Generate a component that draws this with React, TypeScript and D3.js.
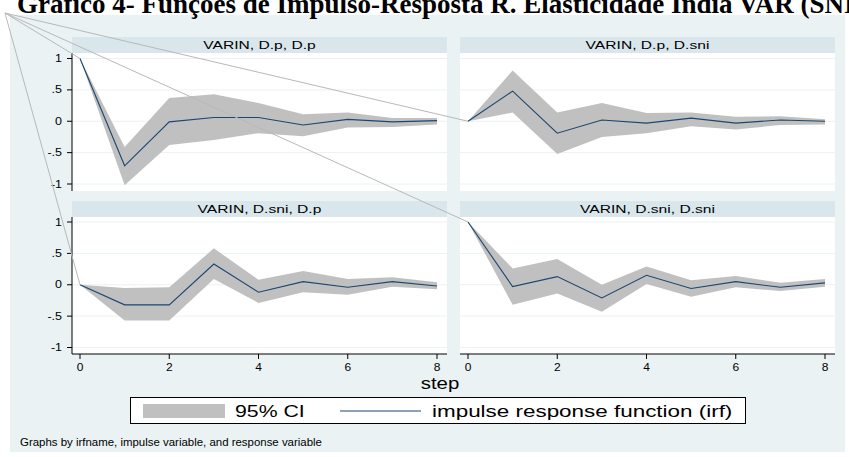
import React from 'react';
import * as d3 from 'd3';

const steps = [0, 1, 2, 3, 4, 5, 6, 7, 8];
const yTicks = [1, 0.5, 0, -0.5, -1];
const yTickLabels = ['1', '.5', '0', '-.5', '-1'];
const xTicks = [0, 2, 4, 6, 8];

const titles = ['VARIN, D.p, D.p', 'VARIN, D.p, D.sni', 'VARIN, D.sni, D.p', 'VARIN, D.sni, D.sni'];

// D.p -> D.p
const irfPP = [1, -0.71, -0.01, 0.06, 0.06, -0.06, 0.03, -0.01, 0.01];
const upPP = [1, -0.41, 0.37, 0.43, 0.29, 0.11, 0.14, 0.05, 0.05];
const loPP = [1, -1.02, -0.38, -0.3, -0.19, -0.24, -0.1, -0.09, -0.05];

// D.p -> D.sni
const irfPS = [0, 0.48, -0.19, 0.02, -0.03, 0.05, -0.03, 0.02, 0.0];
const upPS = [0, 0.81, 0.14, 0.29, 0.13, 0.14, 0.07, 0.08, 0.03];
const loPS = [0, 0.14, -0.52, -0.25, -0.19, -0.08, -0.13, -0.06, -0.05];

// D.sni -> D.p
const irfSP = [0, -0.32, -0.32, 0.33, -0.12, 0.05, -0.04, 0.05, -0.02];
const upSP = [0, -0.05, -0.04, 0.58, 0.08, 0.22, 0.09, 0.12, 0.04];
const loSP = [0, -0.57, -0.57, 0.09, -0.29, -0.12, -0.16, -0.03, -0.07];

// D.sni -> D.sni
const irfSS = [1, -0.03, 0.13, -0.21, 0.15, -0.06, 0.05, -0.04, 0.03];
const upSS = [1, 0.26, 0.41, 0.0, 0.29, 0.07, 0.14, 0.03, 0.09];
const loSS = [1, -0.32, -0.14, -0.43, 0.01, -0.19, -0.04, -0.1, -0.03];

const series = [
  { irf: irfPP, up: upPP, lo: loPP },
  { irf: irfPS, up: upPS, lo: loPS },
  { irf: irfSP, up: upSP, lo: loSP },
  { irf: irfSS, up: upSS, lo: loSS },
];

const BG = '#eaf2f3';
const STRIP = '#d9e6eb';
const NAVY = '#1a476f';
const CI = '#c0c0c0';
const FONT = 'Liberation Sans, Arial, sans-serif';

const W = 849;
const H = 457;

// panel geometry
const cols = [{ x0: 72, x1: 447 }, { x0: 460, x1: 835 }];
const rows = [
  { strip: 37, top: 53, bottom: 191, y1: 58.5, ym1: 184 },
  { strip: 201, top: 217, bottom: 354, y1: 222, ym1: 347.5 },
];

// the source picture is stretched sideways, so text is widened with sx
function SText(props: { x: number; y: number; size: number; sx: number; anchor?: string; children: any }) {
  const { x, y, size, sx, anchor, children } = props;
  return (
    <text
      transform={`translate(${x},${y}) scale(${sx},1)`}
      textAnchor={anchor || 'start'}
      fontSize={size}
      fontFamily={FONT}
      fill="#000"
    >
      {children}
    </text>
  );
}

function scalesFor(i: number) {
  const c = cols[i % 2];
  const r = rows[Math.floor(i / 2)];
  const x = d3.scaleLinear().domain([0, 8]).range([c.x0 + 8, c.x1 - 10]);
  const y = d3.scaleLinear().domain([-1, 1]).range([r.ym1, r.y1]);
  return { c, r, x, y };
}

function Panel({ i }: { i: number }) {
  const { c, r, x, y } = scalesFor(i);
  const s = series[i];
  const area = d3
    .area<number>()
    .x((d) => x(d))
    .y0((d) => y(s.lo[d]))
    .y1((d) => y(s.up[d]));
  const line = d3
    .line<number>()
    .x((d) => x(d))
    .y((d) => y(s.irf[d]));
  const isLeft = i % 2 === 0;
  const isBottom = i >= 2;
  return (
    <g>
      <rect x={c.x0} y={r.strip} width={c.x1 - c.x0} height={r.top - r.strip} fill={STRIP} />
      <SText x={(c.x0 + c.x1) / 2} y={r.strip + 12} size={11} sx={1.42} anchor="middle">
        {titles[i]}
      </SText>
      <rect x={c.x0} y={r.top} width={c.x1 - c.x0} height={r.bottom - r.top} fill="#fff" />
      {yTicks.map((t) => (
        <line key={t} x1={c.x0} x2={c.x1} y1={y(t)} y2={y(t)} stroke={BG} strokeWidth={1} />
      ))}
      <path d={area(steps) || ''} fill={CI} />
      <path d={line(steps) || ''} fill="none" stroke={NAVY} strokeWidth={1.1} />
      {isLeft && (
        <g>
          <line x1={c.x0} x2={c.x0} y1={r.top} y2={r.bottom} stroke="#000" strokeWidth={1} />
          {yTicks.map((t, k) => (
            <g key={t}>
              <line x1={c.x0 - 5} x2={c.x0} y1={y(t)} y2={y(t)} stroke="#000" />
              <SText x={c.x0 - 10} y={y(t) + 3.5} size={10} sx={1.25} anchor="end">
                {yTickLabels[k]}
              </SText>
            </g>
          ))}
        </g>
      )}
      {isBottom && (
        <g>
          <line x1={c.x0} x2={c.x1} y1={r.bottom} y2={r.bottom} stroke="#000" strokeWidth={1} />
          {xTicks.map((t) => (
            <g key={t}>
              <line x1={x(t)} x2={x(t)} y1={r.bottom} y2={r.bottom + 5} stroke="#000" />
              <SText x={x(t)} y={r.bottom + 17} size={10} sx={1.2} anchor="middle">
                {t}
              </SText>
            </g>
          ))}
        </g>
      )}
    </g>
  );
}

export default function App() {
  // stray callout lines from the top-left corner to each panel's step-0 point
  const origin = [5, 13];
  const ends = [0, 1, 2, 3].map((i) => {
    const { x, y } = scalesFor(i);
    return [x(0), y(series[i].irf[0])];
  });
  return (
    <svg width={W} height={H} style={{ position: 'absolute', left: 0, top: 0, background: '#fff' }}>
      <rect x={10} y={15} width={835} height={437} fill={BG} />
      <text x={17} y={13} fontSize={27} fontWeight="bold" fontFamily="Liberation Serif, Times New Roman, serif">
        Gráfico 4- Funções de Impulso-Resposta R. Elasticidade Índia VAR (SNI)
      </text>
      {[0, 1, 2, 3].map((i) => (
        <Panel key={i} i={i} />
      ))}
      <SText x={440} y={389} size={17} sx={1.2} anchor="middle">
        step
      </SText>
      <rect x={130.5} y={397.5} width={615} height={26} fill="#fff" stroke="#000" strokeWidth={1} />
      <rect x={143} y={404} width={82} height={14} fill={CI} />
      <SText x={235} y={417} size={17} sx={1.25}>
        95% CI
      </SText>
      <line x1={340} x2={421} y1={411} y2={411} stroke={NAVY} strokeWidth={1.2} />
      <SText x={432} y={417} size={17} sx={1.32}>
        impulse response function (irf)
      </SText>
      <SText x={20} y={446} size={11} sx={1.04}>
        Graphs by irfname, impulse variable, and response variable
      </SText>
      {ends.map((e, k) => (
        <line key={k} x1={origin[0]} y1={origin[1]} x2={e[0]} y2={e[1]} stroke="#b8b8b8" strokeWidth={1} />
      ))}
    </svg>
  );
}
